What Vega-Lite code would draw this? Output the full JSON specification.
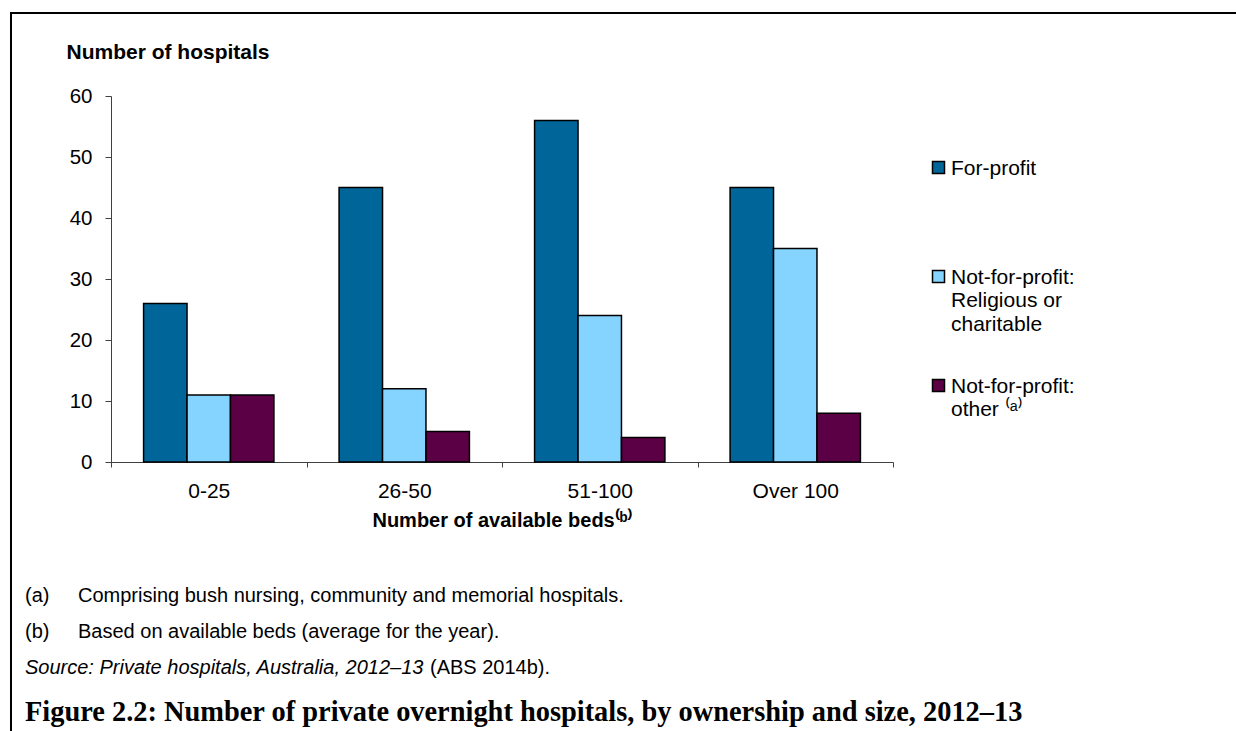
{
  "$schema": "https://vega.github.io/schema/vega-lite/v6.json",
  "width": 1225,
  "height": 718,
  "autosize": {"type": "none"},
  "padding": {"left": 11, "top": 13, "right": 0, "bottom": 0},
  "background": "white",
  "config": {
    "font": "Liberation Sans",
    "view": {"stroke": "black", "strokeWidth": 2, "strokeDash": [1225, 1943, 718]},
    "text": {"font": "Liberation Sans"}
  },
  "resolve": {"scale": {"x": "independent", "y": "independent"}},
  "layer": [
    {
      "data": {
        "values": [
          {"beds": "0-25", "ownership": "For-profit", "hospitals": 26},
          {"beds": "0-25", "ownership": "Not-for-profit: Religious or charitable", "hospitals": 11},
          {"beds": "0-25", "ownership": "Not-for-profit: other", "hospitals": 11},
          {"beds": "26-50", "ownership": "For-profit", "hospitals": 45},
          {"beds": "26-50", "ownership": "Not-for-profit: Religious or charitable", "hospitals": 12},
          {"beds": "26-50", "ownership": "Not-for-profit: other", "hospitals": 5},
          {"beds": "51-100", "ownership": "For-profit", "hospitals": 56},
          {"beds": "51-100", "ownership": "Not-for-profit: Religious or charitable", "hospitals": 24},
          {"beds": "51-100", "ownership": "Not-for-profit: other", "hospitals": 4},
          {"beds": "Over 100", "ownership": "For-profit", "hospitals": 45},
          {"beds": "Over 100", "ownership": "Not-for-profit: Religious or charitable", "hospitals": 35},
          {"beds": "Over 100", "ownership": "Not-for-profit: other", "hospitals": 8}
        ]
      },
      "mark": {"type": "bar", "stroke": "black", "strokeWidth": 1.5},
      "encoding": {
        "x": {
          "field": "beds",
          "type": "nominal",
          "sort": ["0-25", "26-50", "51-100", "Over 100"],
          "scale": {"range": [100, 882], "paddingInner": 0, "paddingOuter": 0},
          "axis": {
            "orient": "bottom",
            "offset": -269,
            "tickBand": "extent",
            "labelAngle": 0,
            "labelFontSize": 21,
            "labelColor": "black",
            "labelPadding": 13,
            "tickSize": 5,
            "tickColor": "#404040",
            "domainColor": "#404040",
            "title": "Number of available beds⁽ᵇ⁾",
            "titleFontSize": 20,
            "titleFontWeight": "bold",
            "titleColor": "black",
            "titleBaseline": "alphabetic",
            "titleY": 64
          }
        },
        "xOffset": {
          "field": "ownership",
          "type": "nominal",
          "sort": ["For-profit", "Not-for-profit: Religious or charitable", "Not-for-profit: other"],
          "scale": {"paddingInner": 0, "paddingOuter": 0.75}
        },
        "y": {
          "field": "hospitals",
          "type": "quantitative",
          "scale": {"domain": [0, 60], "nice": false, "range": [449, 83]},
          "axis": {
            "orient": "left",
            "offset": -100,
            "values": [0, 10, 20, 30, 40, 50, 60],
            "grid": false,
            "tickSize": 6,
            "labelPadding": 13,
            "labelFontSize": 20.5,
            "labelColor": "black",
            "tickColor": "#404040",
            "domainColor": "#404040",
            "title": "Number of hospitals",
            "titleAngle": 0,
            "titleAlign": "left",
            "titleBaseline": "alphabetic",
            "titleX": -45,
            "titleY": 45,
            "titleFontSize": 21,
            "titleFontWeight": "bold",
            "titleColor": "black"
          }
        },
        "color": {
          "field": "ownership",
          "type": "nominal",
          "sort": ["For-profit", "Not-for-profit: Religious or charitable", "Not-for-profit: other"],
          "scale": {
            "domain": ["For-profit", "Not-for-profit: Religious or charitable", "Not-for-profit: other"],
            "range": ["#006699", "#85D3FF", "#5C0045"]
          },
          "legend": {
            "orient": "none",
            "legendX": 917,
            "legendY": 144,
            "title": null,
            "padding": 0,
            "symbolType": "square",
            "symbolSize": 144,
            "symbolStrokeColor": "black",
            "symbolStrokeWidth": 1.5,
            "labelFontSize": 21,
            "labelColor": "black",
            "labelOffset": 2,
            "labelLimit": 300,
            "labelBaseline": "alphabetic",
            "rowPadding": 40,
            "labelExpr": "datum.label == 'For-profit' ? ['For-profit', ' ', ' '] : datum.label == 'Not-for-profit: other' ? ['Not-for-profit:', 'other ⁽ᵃ⁾', ' '] : ['Not-for-profit:', 'Religious or', 'charitable']",
            "encode": {"labels": {"update": {"lineHeight": {"value": 23.5}, "dy": {"value": 7}}}}
          }
        }
      }
    },
    {
      "data": {
        "values": [
          {"line": "a", "part": "marker", "text": "(a)"},
          {"line": "a", "part": "body", "text": "Comprising bush nursing, community and memorial hospitals."},
          {"line": "b", "part": "marker", "text": "(b)"},
          {"line": "b", "part": "body", "text": "Based on available beds (average for the year)."}
        ]
      },
      "mark": {"type": "text", "align": "left", "baseline": "middle", "fontSize": 20, "color": "black"},
      "encoding": {
        "x": {"field": "part", "type": "nominal", "scale": {"type": "point", "domain": ["marker", "body"], "range": [14, 67], "padding": 0}, "axis": null},
        "y": {"field": "line", "type": "nominal", "scale": {"type": "point", "domain": ["a", "b", "source"], "range": [583, 655], "padding": 0}, "axis": null},
        "text": {"field": "text"}
      }
    },
    {
      "data": {"values": [{"line": "source", "part": "marker", "text": "Source: Private hospitals, Australia, 2012–13"}]},
      "mark": {"type": "text", "align": "left", "baseline": "middle", "fontSize": 20, "fontStyle": "italic", "color": "black"},
      "encoding": {
        "x": {"field": "part", "type": "nominal", "scale": {"type": "point", "domain": ["marker", "body"], "range": [14, 67], "padding": 0}, "axis": null},
        "y": {"field": "line", "type": "nominal", "scale": {"type": "point", "domain": ["a", "b", "source"], "range": [583, 655], "padding": 0}, "axis": null},
        "text": {"field": "text"}
      }
    },
    {
      "data": {"values": [{"line": "source", "part": "marker", "text": "(ABS 2014b)."}]},
      "mark": {"type": "text", "align": "left", "baseline": "middle", "fontSize": 20, "color": "black", "dx": 405},
      "encoding": {
        "x": {"field": "part", "type": "nominal", "scale": {"type": "point", "domain": ["marker", "body"], "range": [14, 67], "padding": 0}, "axis": null},
        "y": {"field": "line", "type": "nominal", "scale": {"type": "point", "domain": ["a", "b", "source"], "range": [583, 655], "padding": 0}, "axis": null},
        "text": {"field": "text"}
      }
    },
    {
      "data": {"values": [{"line": "figure", "part": "marker", "text": "Figure 2.2: Number of private overnight hospitals, by ownership and size, 2012–13"}]},
      "mark": {"type": "text", "align": "left", "baseline": "alphabetic", "font": "Liberation Serif", "fontWeight": "bold", "fontSize": 28.4, "color": "black"},
      "encoding": {
        "x": {"field": "part", "type": "nominal", "scale": {"type": "point", "domain": ["marker", "body"], "range": [14, 67], "padding": 0}, "axis": null},
        "y": {"field": "line", "type": "nominal", "scale": {"type": "point", "domain": ["figure"], "range": [708, 708], "padding": 0}, "axis": null},
        "text": {"field": "text"}
      }
    }
  ]
}
